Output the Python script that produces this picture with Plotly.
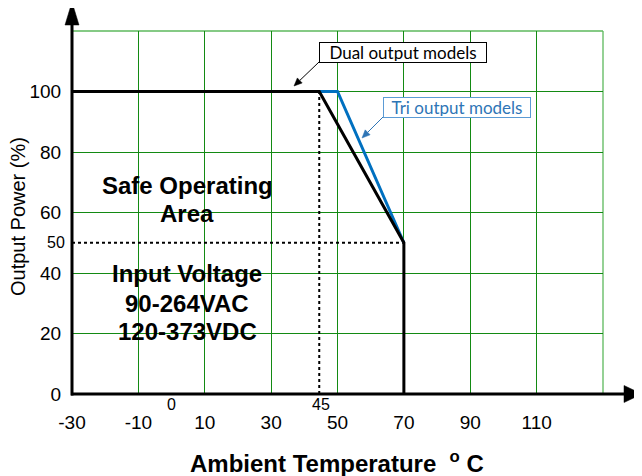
import math
import plotly.graph_objects as go

# ---- data ----
dual_x = [-30, 44.5, 70, 70]
dual_y = [100, 100, 50, 0]
tri_x = [44.5, 50, 70]
tri_y = [100, 100, 50]
dash_v_x = [44.5, 44.5]
dash_v_y = [0, 100]
dash_h_x = [-30, 70]
dash_h_y = [50, 50]

x_tickvals = [-30, -10, 10, 30, 50, 70, 90, 110]
x_ticktext = ["-30", "-10", "10", "30", "50", "70", "90", "110"]
y_tickvals = [0, 20, 40, 60, 80, 100]
y_ticktext = ["0", "20", "40", "60", "80", "100"]
x_max, y_max = 130, 120

# page has an 8px body margin; figure sized so it fits the 642x476 window
W, H = 634, 468
ML, MR, MT, MB = 64, 39, 23, 82
PW = W - ML - MR
PH = H - MT - MB

FONT = "Liberation Sans, Arial, sans-serif"
GRID = "#138a13"
GRID_EDGE = "#5cb85c"

fig = go.Figure()

fig.add_trace(go.Scatter(x=dash_v_x, y=dash_v_y, mode="lines",
                         line=dict(color="black", width=2, dash="dot"),
                         showlegend=False, hoverinfo="skip"))
fig.add_trace(go.Scatter(x=dash_h_x, y=dash_h_y, mode="lines",
                         line=dict(color="black", width=2, dash="dot"),
                         showlegend=False, hoverinfo="skip"))
fig.add_trace(go.Scatter(x=tri_x, y=tri_y, mode="lines",
                         line=dict(color="#0070C0", width=3),
                         showlegend=False, name="Tri output models"))
fig.add_trace(go.Scatter(x=dual_x, y=dual_y, mode="lines",
                         line=dict(color="black", width=3),
                         showlegend=False, name="Dual output models"))


# helpers: page pixel -> paper coords
def px_x(p):
    return (p - 8 - ML) / PW


def px_y(p):
    return (MT + PH - (p - 8)) / PH


shapes = []
# outer grid lines (top and right), lighter green
shapes.append(dict(type="line", xref="paper", yref="paper", x0=0, x1=1, y0=1, y1=1,
                   line=dict(color=GRID_EDGE, width=1.3), layer="below"))
shapes.append(dict(type="line", xref="paper", yref="paper", x0=1, x1=1, y0=0, y1=1,
                   line=dict(color=GRID_EDGE, width=1.3), layer="below"))
# x axis line + arrow
shapes.append(dict(type="line", xref="paper", yref="paper",
                   x0=px_x(71), x1=px_x(626), y0=0, y1=0,
                   line=dict(color="black", width=3)))
shapes.append(dict(type="path", xref="paper", yref="paper",
                   path=f"M {px_x(624)},{px_y(385.5)} L {px_x(642)},{px_y(394)} L {px_x(624)},{px_y(402.5)} Z",
                   fillcolor="black", line=dict(color="black", width=0.5)))
# y axis line + arrow
shapes.append(dict(type="line", xref="paper", yref="paper",
                   x0=0, x1=0, y0=px_y(395.5), y1=px_y(23),
                   line=dict(color="black", width=3)))
shapes.append(dict(type="path", xref="paper", yref="paper",
                   path=f"M {px_x(65)},{px_y(25)} L {px_x(72)},{px_y(2)} L {px_x(79)},{px_y(25)} Z",
                   fillcolor="black", line=dict(color="black", width=0.5)))


def callout_arrow(tail, tip, color):
    tx, ty = tail
    hx, hy = tip
    dx, dy = hx - tx, hy - ty
    L = math.hypot(dx, dy)
    ux, uy = dx / L, dy / L
    hl, hw = 8, 3.5
    bx, by = hx - ux * hl, hy - uy * hl
    nx, ny = -uy, ux
    p1 = (bx + nx * hw, by + ny * hw)
    p2 = (bx - nx * hw, by - ny * hw)
    shapes.append(dict(type="line", xref="paper", yref="paper",
                       x0=px_x(tx), y0=px_y(ty), x1=px_x(bx), y1=px_y(by),
                       line=dict(color=color, width=1)))
    shapes.append(dict(type="path", xref="paper", yref="paper",
                       path=f"M {px_x(hx)},{px_y(hy)} L {px_x(p1[0])},{px_y(p1[1])} "
                            f"L {px_x(p2[0])},{px_y(p2[1])} Z",
                       fillcolor=color, line=dict(color=color, width=0.5)))


callout_arrow((319, 62), (294, 86), "black")
callout_arrow((383, 117), (362, 138), "#2E75B6")

annotations = []
bold_lines = [("Safe Operating", 69.0), ("Area", 59.6),
              ("Input Voltage", 39.9), ("90-264VAC", 29.8), ("120-373VDC", 20.5)]
for t, yv in bold_lines:
    annotations.append(dict(x=4.7, y=yv, xref="x", yref="y", text=f"<b>{t}</b>",
                            showarrow=False, font=dict(family=FONT, size=24, color="black"),
                            xanchor="center", yanchor="middle"))

# small extra tick labels
annotations.append(dict(x=0, y=px_y(404), xref="x", yref="paper", text="0", showarrow=False,
                        font=dict(family=FONT, size=16, color="black"), xanchor="center", yanchor="middle"))
annotations.append(dict(x=45, y=px_y(404), xref="x", yref="paper", text="45", showarrow=False,
                        font=dict(family=FONT, size=16, color="black"), xanchor="center", yanchor="middle"))
annotations.append(dict(x=px_x(67), y=50, xref="paper", yref="y", text="50", showarrow=False,
                        font=dict(family=FONT, size=16, color="black"), xanchor="right", yanchor="middle"))

# axis titles
annotations.append(dict(x=px_x(18), y=px_y(217), xref="paper", yref="paper",
                        text="Output Power (%)", textangle=-90, showarrow=False,
                        font=dict(family=FONT, size=20, color="black"),
                        xanchor="center", yanchor="middle"))
annotations.append(dict(x=px_x(337), y=px_y(462), xref="paper", yref="paper",
                        text="<b>Ambient Temperature\u00a0\u00a0<sup>o</sup>\u00a0C</b>", showarrow=False,
                        font=dict(family=FONT, size=24, color="black"),
                        xanchor="center", yanchor="middle"))

# callout boxes
LBL = "Lato, Noto Sans, sans-serif"
annotations.append(dict(x=px_x(403), y=px_y(52), xref="paper", yref="paper",
                        text="Dual output models", showarrow=False,
                        font=dict(family=LBL, size=17, color="black"),
                        bgcolor="white", bordercolor="black", borderwidth=1, borderpad=1,
                        width=164, height=17, xanchor="center", yanchor="middle"))
annotations.append(dict(x=px_x(457), y=px_y(107), xref="paper", yref="paper",
                        text="Tri output models", showarrow=False,
                        font=dict(family=LBL, size=17, color="#2E75B6"),
                        bgcolor="white", bordercolor="#5B9BD5", borderwidth=1, borderpad=1,
                        width=144, height=17, xanchor="center", yanchor="middle"))

fig.update_layout(
    width=W, height=H,
    margin=dict(l=ML, r=MR, t=MT, b=MB, pad=0),
    paper_bgcolor="white", plot_bgcolor="white",
    showlegend=False,
    shapes=shapes,
    annotations=annotations,
    xaxis=dict(range=[-30, x_max], tickmode="array", tickvals=x_tickvals, ticktext=x_ticktext,
               showgrid=True, gridcolor=GRID, gridwidth=1.3, zeroline=False, showline=False,
               ticks="outside", ticklen=11, tickcolor="rgba(0,0,0,0)",
               tickfont=dict(family=FONT, size=19, color="black")),
    yaxis=dict(range=[0, y_max], tickmode="array", tickvals=y_tickvals, ticktext=y_ticktext,
               showgrid=True, gridcolor=GRID, gridwidth=1.3, zeroline=False, showline=False,
               ticks="outside", ticklen=6, tickcolor="rgba(0,0,0,0)",
               tickfont=dict(family=FONT, size=19, color="black")),
)

fig.write_html("out.html")
